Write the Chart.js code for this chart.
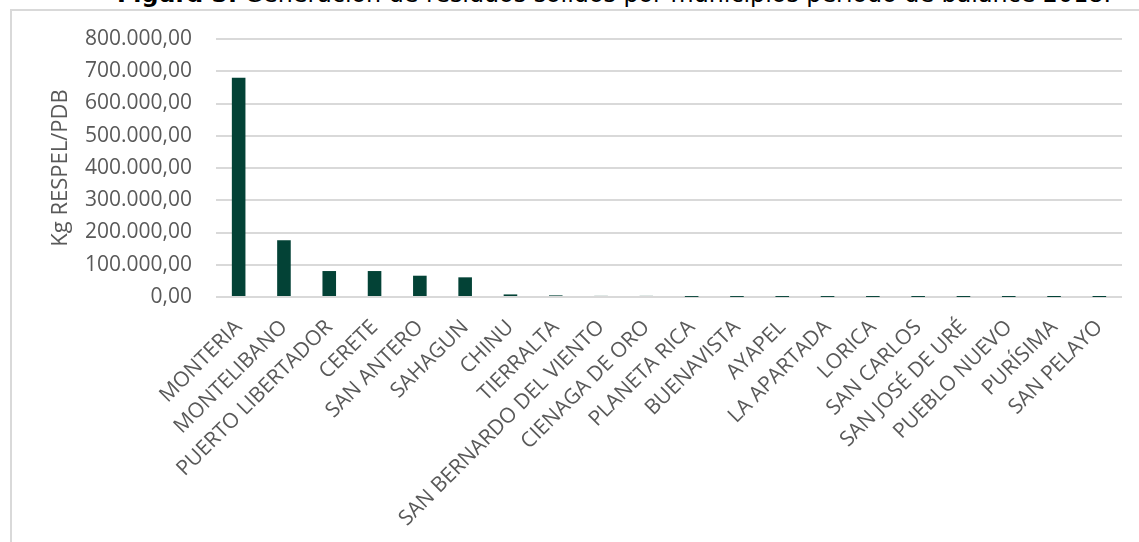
<!DOCTYPE html>
<html>
<head>
<meta charset="utf-8">
<script src="https://cdn.jsdelivr.net/npm/chart.js@4.4.1/dist/chart.umd.min.js"></script>
<style>
  html, body { margin: 0; padding: 0; background: #fff; overflow: hidden; }
  #wrap { position: relative; width: 1139px; height: 542px; }
  #title {
    position: absolute; left: 117px; top: -18px; white-space: nowrap;
    font-family: "DejaVu Sans", sans-serif; font-size: 23.8px; line-height: 24px; color: #000;
  }
  #frame {
    position: absolute; left: 10px; top: 9px; width: 1200px; height: 600px;
    border-left: 2px solid #d9d9d9; border-top: 2px solid #d9d9d9; pointer-events: none;
  }
  canvas { position: absolute; left: 0; top: 0; }
</style>
</head>
<body>
<div id="wrap">
  <div id="title"><b>Figura 5.</b> Generación de residuos sólidos por municipios periodo de balance 2018.</div>
  <div id="frame"></div>
  <canvas id="chart" width="1139" height="542"></canvas>
</div>
<script>
const municipios = ['MONTERIA', 'MONTELIBANO', 'PUERTO LIBERTADOR', 'CERETE', 'SAN ANTERO', 'SAHAGUN',
    'CHINU', 'TIERRALTA', 'SAN BERNARDO DEL VIENTO', 'CIENAGA DE ORO', 'PLANETA RICA', 'BUENAVISTA',
    'AYAPEL', 'LA APARTADA', 'LORICA', 'SAN CARLOS', 'SAN JOSÉ DE URÉ', 'PUEBLO NUEVO', 'PURÍSIMA', 'SAN PELAYO'];
const kgRespel = [680000, 176000, 80500, 80500, 66000, 61000, 8000, 5000, 3500, 3500,
    300, 250, 200, 200, 150, 150, 100, 100, 80, 50];
const yMax = 800000;
const yStep = 100000;

// formato 800.000,00
function formatoEs(v) {
    const entero = Math.round(v).toString().replace(/\B(?=(\d{3})+(?!\d))/g, '.');
    return entero + ',00';
}

const ctx = document.getElementById('chart').getContext('2d');
new Chart(ctx, {
    type: 'bar',
    data: {
        labels: municipios,
        datasets: [{
            label: 'Kg RESPEL/PDB',
            data: kgRespel,
            backgroundColor: '#034236',
            borderWidth: 0,
            barPercentage: 0.30,
            categoryPercentage: 1.0
        }]
    },
    options: {
        responsive: false,
        animation: false,
        layout: { padding: { top: 39, right: 17, left: 0, bottom: 0 } },
        plugins: { legend: { display: false }, tooltip: { enabled: false } },
        scales: {
            x: {
                grid: { display: false },
                border: { display: false },
                ticks: {
                    minRotation: 45, maxRotation: 45, autoSkip: false,
                    color: '#595959', padding: 10,
                    font: { family: 'Open Sans', size: 21 }
                },
                afterFit: scale => { scale.height = 245; }
            },
            y: {
                min: 0, max: yMax,
                grid: { color: '#d9d9d9', lineWidth: 2, drawTicks: false },
                border: { display: false },
                ticks: {
                    stepSize: yStep, padding: 24, color: '#595959',
                    font: { family: 'Open Sans', size: 21 },
                    callback: v => formatoEs(v)
                },
                title: {
                    display: true, text: 'Kg RESPEL/PDB', color: '#595959',
                    font: { family: 'Open Sans', size: 22 },
                    padding: { top: 48 }
                },
                afterFit: scale => { scale.width = 216; }
            }
        }
    }
});
</script>
</body>
</html>
